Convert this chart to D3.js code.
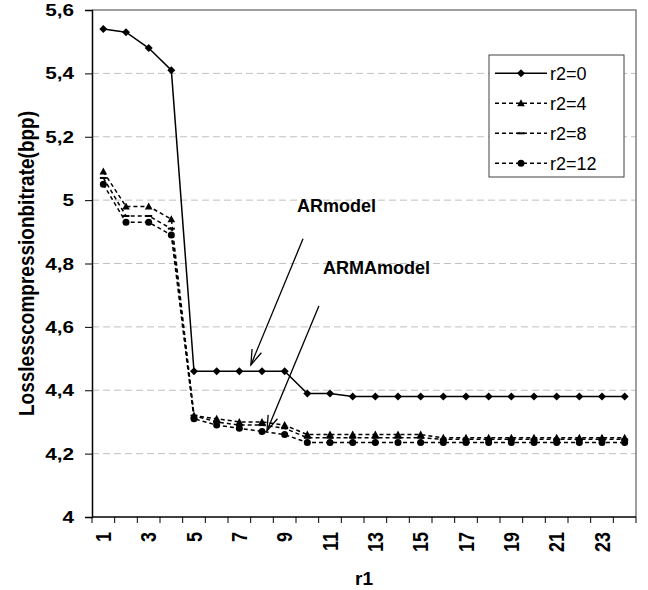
<!DOCTYPE html>
<html><head><meta charset="utf-8">
<script src="https://cdn.jsdelivr.net/npm/d3@7"></script>
<style>body{margin:0;background:#fff}svg{display:block}text{font-family:"Liberation Sans",Arial,sans-serif}</style>
</head><body><svg id="c" width="648" height="590"></svg>
<script>
const categories = [1,2,3,4,5,6,7,8,9,10,11,12,13,14,15,16,17,18,19,20,21,22,23,24];
const r2_0  = [5.54,5.53,5.48,5.41,4.46,4.46,4.46,4.46,4.46,4.39,4.39,4.38,4.38,4.38,4.38,4.38,4.38,4.38,4.38,4.38,4.38,4.38,4.38,4.38];
const r2_4  = [5.09,4.98,4.98,4.94,4.32,4.31,4.30,4.30,4.29,4.26,4.26,4.26,4.26,4.26,4.26,4.25,4.25,4.25,4.25,4.25,4.25,4.25,4.25,4.25];
const r2_8  = [5.07,4.95,4.95,4.91,4.32,4.30,4.29,4.29,4.28,4.25,4.25,4.25,4.25,4.25,4.25,4.245,4.245,4.245,4.245,4.245,4.245,4.245,4.245,4.245];
const r2_12 = [5.05,4.93,4.93,4.89,4.31,4.29,4.28,4.27,4.26,4.235,4.235,4.235,4.235,4.235,4.235,4.235,4.235,4.235,4.235,4.235,4.235,4.235,4.235,4.235];
const seriesNames = ["r2=0","r2=4","r2=8","r2=12"];
const yTickValues = [4,4.2,4.4,4.6,4.8,5,5.2,5.4,5.6];
const yTickLabels = ["4","4,2","4,4","4,6","4,8","5","5,2","5,4","5,6"];
const xTickLabels = ["1","3","5","7","9","11","13","15","17","19","21","23"];
const yTitle = "Losslesscompressionbitrate(bpp)";
const xTitle = "r1";
const annotations = [
  {text:"ARmodel", tx:9.54, ty:4.963, x1:9.81, y1:4.878, x2:7.51, y2:4.48},
  {text:"ARMAmodel", tx:10.69, ty:4.767, x1:10.51, y1:4.666, x2:8.22, y2:4.272}
];

const svg = d3.select("#c");
const L=92, R=636, T=10, B=517;
const x = d3.scaleLinear().domain([0.5,24.5]).range([L,R]);
const y = d3.scaleLinear().domain([4,5.6]).range([B,T]);

// gridlines
svg.append("g").selectAll("line").data(yTickValues.slice(1,-1)).join("line")
  .attr("x1",L).attr("x2",R).attr("y1",d=>y(d)).attr("y2",d=>y(d))
  .attr("stroke","#c0c0c0").attr("stroke-width",1).attr("stroke-dasharray","7,4");

// plot border top/right
svg.append("path").attr("d",`M${L},${y(5.6)}H${R}V${B}`).attr("fill","none").attr("stroke","#808080").attr("stroke-width",1.5);

// y axis
const yAxis = d3.axisLeft(y).tickValues(yTickValues).tickSize(7).tickFormat(()=> "");
const gy = svg.append("g").attr("transform",`translate(${L},0)`).call(yAxis);
gy.select(".domain").attr("stroke","#000").attr("stroke-width",1.5);
gy.selectAll(".tick line").attr("stroke","#000").attr("stroke-width",1);
svg.append("g").selectAll("text").data(yTickValues).join("text")
  .attr("transform",d=>`translate(74,${y(d)}) scale(1.22,1)`)
  .attr("text-anchor","end").attr("dy","0.36em")
  .attr("font-size",17).attr("font-weight","bold").text((d,i)=>yTickLabels[i]);

// x axis
const bounds = categories.map(c=>c-0.5).concat([categories[categories.length-1]+0.5]);
const gx = svg.append("g");
gx.append("line").attr("x1",L).attr("x2",R).attr("y1",B).attr("y2",B).attr("stroke","#000").attr("stroke-width",1.5);
gx.selectAll("line.t").data(bounds).join("line").attr("class","t")
  .attr("x1",d=>x(d)).attr("x2",d=>x(d)).attr("y1",B).attr("y2",B+6).attr("stroke","#000");
gx.selectAll("text").data(xTickLabels).join("text")
  .attr("transform",d=>`translate(${x(+d)},${B+15}) scale(1.2,1) rotate(-90)`)
  .attr("text-anchor","end").attr("dy","0.36em")
  .attr("font-size",18).attr("font-weight","bold").text(d=>d);

// titles
svg.append("text").attr("x",(L+R)/2).attr("y",585).attr("text-anchor","middle")
  .attr("font-size",19).attr("font-weight","bold").text(xTitle);
svg.append("text").attr("transform",`translate(34,${(T+B)/2}) scale(1.15,1) rotate(-90)`).attr("text-anchor","middle")
  .attr("font-size",19).attr("font-weight","bold").text(yTitle);

// series
const series = [
  {name:seriesNames[0], vals:r2_0, dash:null, marker:"diamond"},
  {name:seriesNames[1], vals:r2_4, dash:"4,3", marker:"triangle"},
  {name:seriesNames[2], vals:r2_8, dash:"4,3", marker:"dash"},
  {name:seriesNames[3], vals:r2_12, dash:"4,3", marker:"circle"}
];
const line = d3.line().x((d,i)=>x(categories[i])).y(d=>y(d));
function drawMarker(g, type, cx, cy){
  if(type==="diamond") g.append("path").attr("d",`M${cx},${cy-4}L${cx+4},${cy}L${cx},${cy+4}L${cx-4},${cy}Z`).attr("fill","#000");
  else if(type==="triangle") g.append("path").attr("d",`M${cx},${cy-4}L${cx+3.8},${cy+3}L${cx-3.8},${cy+3}Z`).attr("fill","#000");
  else if(type==="circle") g.append("circle").attr("cx",cx).attr("cy",cy).attr("r",3.5).attr("fill","#000");
  else if(type==="dash") g.append("rect").attr("x",cx-3.5).attr("y",cy-1).attr("width",7).attr("height",2).attr("fill","#000");
}
series.slice().reverse().forEach(s=>{
  const g = svg.append("g");
  g.append("path").attr("d",line(s.vals)).attr("fill","none").attr("stroke","#000")
    .attr("stroke-width",1.5).attr("stroke-dasharray",s.dash);
  s.vals.forEach((v,i)=>drawMarker(g,s.marker,x(categories[i]),y(v)));
});

// annotations
annotations.forEach(a=>{
  svg.append("text").attr("x",x(a.tx)).attr("y",y(a.ty)).attr("font-size",18).attr("font-weight","bold").text(a.text);
  const X1=x(a.x1),Y1=y(a.y1),X2=x(a.x2),Y2=y(a.y2);
  svg.append("line").attr("x1",X1).attr("y1",Y1).attr("x2",X2).attr("y2",Y2).attr("stroke","#000").attr("stroke-width",1.3);
  const ang=Math.atan2(Y2-Y1,X2-X1), len=16, sp=0.32;
  const p1=[X2-len*Math.cos(ang-sp),Y2-len*Math.sin(ang-sp)];
  const p2=[X2-len*Math.cos(ang+sp),Y2-len*Math.sin(ang+sp)];
  svg.append("path").attr("d",`M${p1}L${X2},${Y2}L${p2}`).attr("fill","none").attr("stroke","#000").attr("stroke-width",1.3);
});

// legend
const lg = svg.append("g");
lg.append("rect").attr("x",489).attr("y",55).attr("width",135).attr("height",122).attr("fill","#fff").attr("stroke","#404040").attr("stroke-width",1);
series.forEach((s,i)=>{
  const cy = 73.3 + i*30;
  lg.append("line").attr("x1",495).attr("x2",547).attr("y1",cy).attr("y2",cy).attr("stroke","#000").attr("stroke-width",1.5).attr("stroke-dasharray",s.dash);
  drawMarker(lg,s.marker,521,cy);
  lg.append("text").attr("x",550).attr("y",cy).attr("dy","0.35em").attr("font-size",18).text(s.name);
});
</script></body></html>
